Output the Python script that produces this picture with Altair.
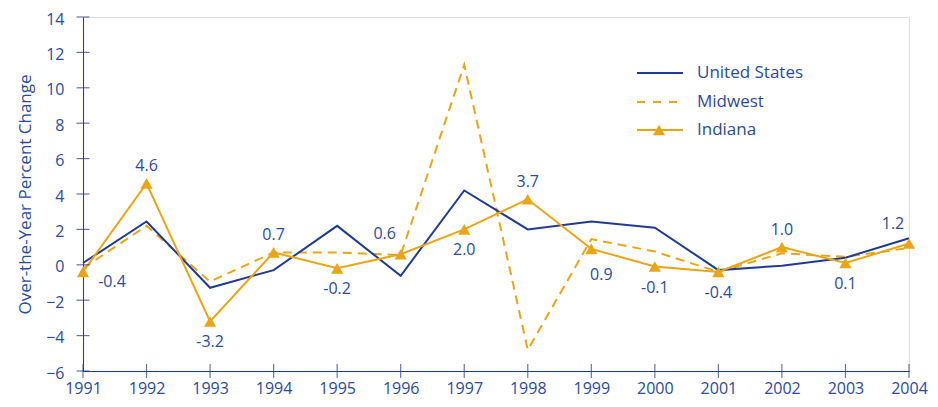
import altair as alt
import pandas as pd

years = [1991, 1992, 1993, 1994, 1995, 1996, 1997, 1998, 1999, 2000, 2001, 2002, 2003, 2004]
us = [0.1, 2.45, -1.3, -0.3, 2.2, -0.62, 4.2, 2.0, 2.45, 2.1, -0.3, -0.05, 0.4, 1.5]
midwest = [-0.2, 2.2, -0.95, 0.7, 0.7, 0.55, 11.3, -4.8, 1.45, 0.75, -0.4, 0.65, 0.45, 0.95]
indiana = [-0.4, 4.6, -3.2, 0.7, -0.2, 0.6, 2.0, 3.7, 0.9, -0.1, -0.4, 1.0, 0.1, 1.2]
label_pos = ["right", "above", "below", "above", "below", "upleft", "below",
             "above", "downright", "below", "below", "above", "below", "upleft"]
y_ticks = [-6, -4, -2, 0, 2, 4, 6, 8, 10, 12, 14]
series_names = ["United States", "Midwest", "Indiana"]

BLUE = "#1f3b92"
TEXT = "#2b4a9c"
GOLD = "#e9a515"
FONT = "Open Sans"

df = pd.DataFrame({"year": years, "United States": us, "Midwest": midwest,
                   "Indiana": indiana, "pos": label_pos})
df["label"] = [f"{v:.1f}" for v in indiana]
ticks_df = pd.DataFrame({"v": y_ticks})
years_df = pd.DataFrame({"year": years})

xs = alt.Scale(domain=[1991, 2004], nice=False, zero=False)
ys = alt.Scale(domain=[-6, 14], nice=False)

xax = alt.Axis(values=years, format="d", ticks=False, labelPadding=9, domainColor=BLUE,
               labelColor=TEXT, labelFontSize=16, labelFont=FONT, grid=False, title=None,
               labelOverlap=False, labelFlush=False)
yax = alt.Axis(values=y_ticks, ticks=False, labelPadding=19, domainColor=BLUE,
               labelColor=TEXT, labelFontSize=16, labelFont=FONT, grid=False,
               labelOverlap=False, labelFlush=False, labelOffset=2,
               title="Over-the-Year Percent Change", titleColor=TEXT, titleFontSize=17,
               titleFont=FONT, titleFontWeight="normal", titlePadding=11)

X = alt.X("year:Q", scale=xs, axis=xax)

base = alt.Chart(df)

mw_line = base.mark_line(color=GOLD, strokeWidth=2, strokeDash=[9, 6]).encode(
    x=X, y=alt.Y("Midwest:Q", scale=ys, axis=yax))
us_line = base.mark_line(color=BLUE, strokeWidth=2).encode(
    x=X, y=alt.Y("United States:Q", scale=ys, axis=yax))
in_line = base.mark_line(color=GOLD, strokeWidth=2).encode(
    x=X, y=alt.Y("Indiana:Q", scale=ys, axis=yax))
in_pts = base.mark_point(shape="triangle-up", filled=True, color=GOLD, size=150, opacity=1).encode(
    x=X, y=alt.Y("Indiana:Q", scale=ys, axis=yax))

offsets = {"right": (29, 10), "above": (0, -17), "below": (0, 21),
           "upleft": (-16, -20), "downright": (10, 26)}
label_layers = []
for p, (dx, dy) in offsets.items():
    label_layers.append(
        base.transform_filter(alt.datum.pos == p).mark_text(
            dx=dx, dy=dy, fontSize=16, font=FONT, color=TEXT, baseline="middle", align="center"
        ).encode(x=X, y=alt.Y("Indiana:Q", scale=ys, axis=yax), text="label:N"))

ytick_marks = alt.Chart(ticks_df).mark_tick(orient="horizontal", size=13, thickness=1.2, color=BLUE).encode(
    x=alt.datum(1991, scale=xs, axis=xax), y=alt.Y("v:Q", scale=ys, axis=yax))
xtick_marks = alt.Chart(years_df).mark_tick(orient="vertical", size=14, thickness=1.2, color=BLUE).encode(
    x=X, y=alt.datum(-6, scale=ys, axis=yax))

# Legend
leg = pd.DataFrame({"name": series_names})
leg_y = {"United States": 56, "Midwest": 85, "Indiana": 113}
legend_layers = []
for name in series_names:
    lc = alt.Chart(leg).transform_filter(alt.datum.name == name)
    col = BLUE if name == "United States" else GOLD
    kw = {"strokeDash": [8, 8]} if name == "Midwest" else {}
    legend_layers.append(lc.mark_rule(color=col, strokeWidth=2, **kw).encode(
        x=alt.value(554), x2=alt.value(600), y=alt.value(leg_y[name])))
    legend_layers.append(lc.mark_text(align="left", baseline="middle", fontSize=17, font=FONT,
                                      color=TEXT).encode(
        x=alt.value(614), y=alt.value(leg_y[name]), text="name:N"))
    if name == "Indiana":
        legend_layers.append(lc.mark_point(shape="triangle-up", filled=True, color=GOLD,
                                           size=150, opacity=1).encode(
            x=alt.value(576), y=alt.value(leg_y[name])))

chart = alt.layer(mw_line, us_line, in_line, in_pts, *label_layers, ytick_marks, xtick_marks,
                  *legend_layers).properties(
    width=826, height=354,
    autosize=alt.AutoSizeParams(type="none"),
    padding={"left": 75, "top": 9, "right": 20, "bottom": 28},
).configure_view(stroke=BLUE, strokeWidth=1.2).configure_axis(
    labelOverlap=False, labelFlush=False
).configure(background="white")

chart.save("out.html", embed_options={"renderer": "svg", "actions": False})
